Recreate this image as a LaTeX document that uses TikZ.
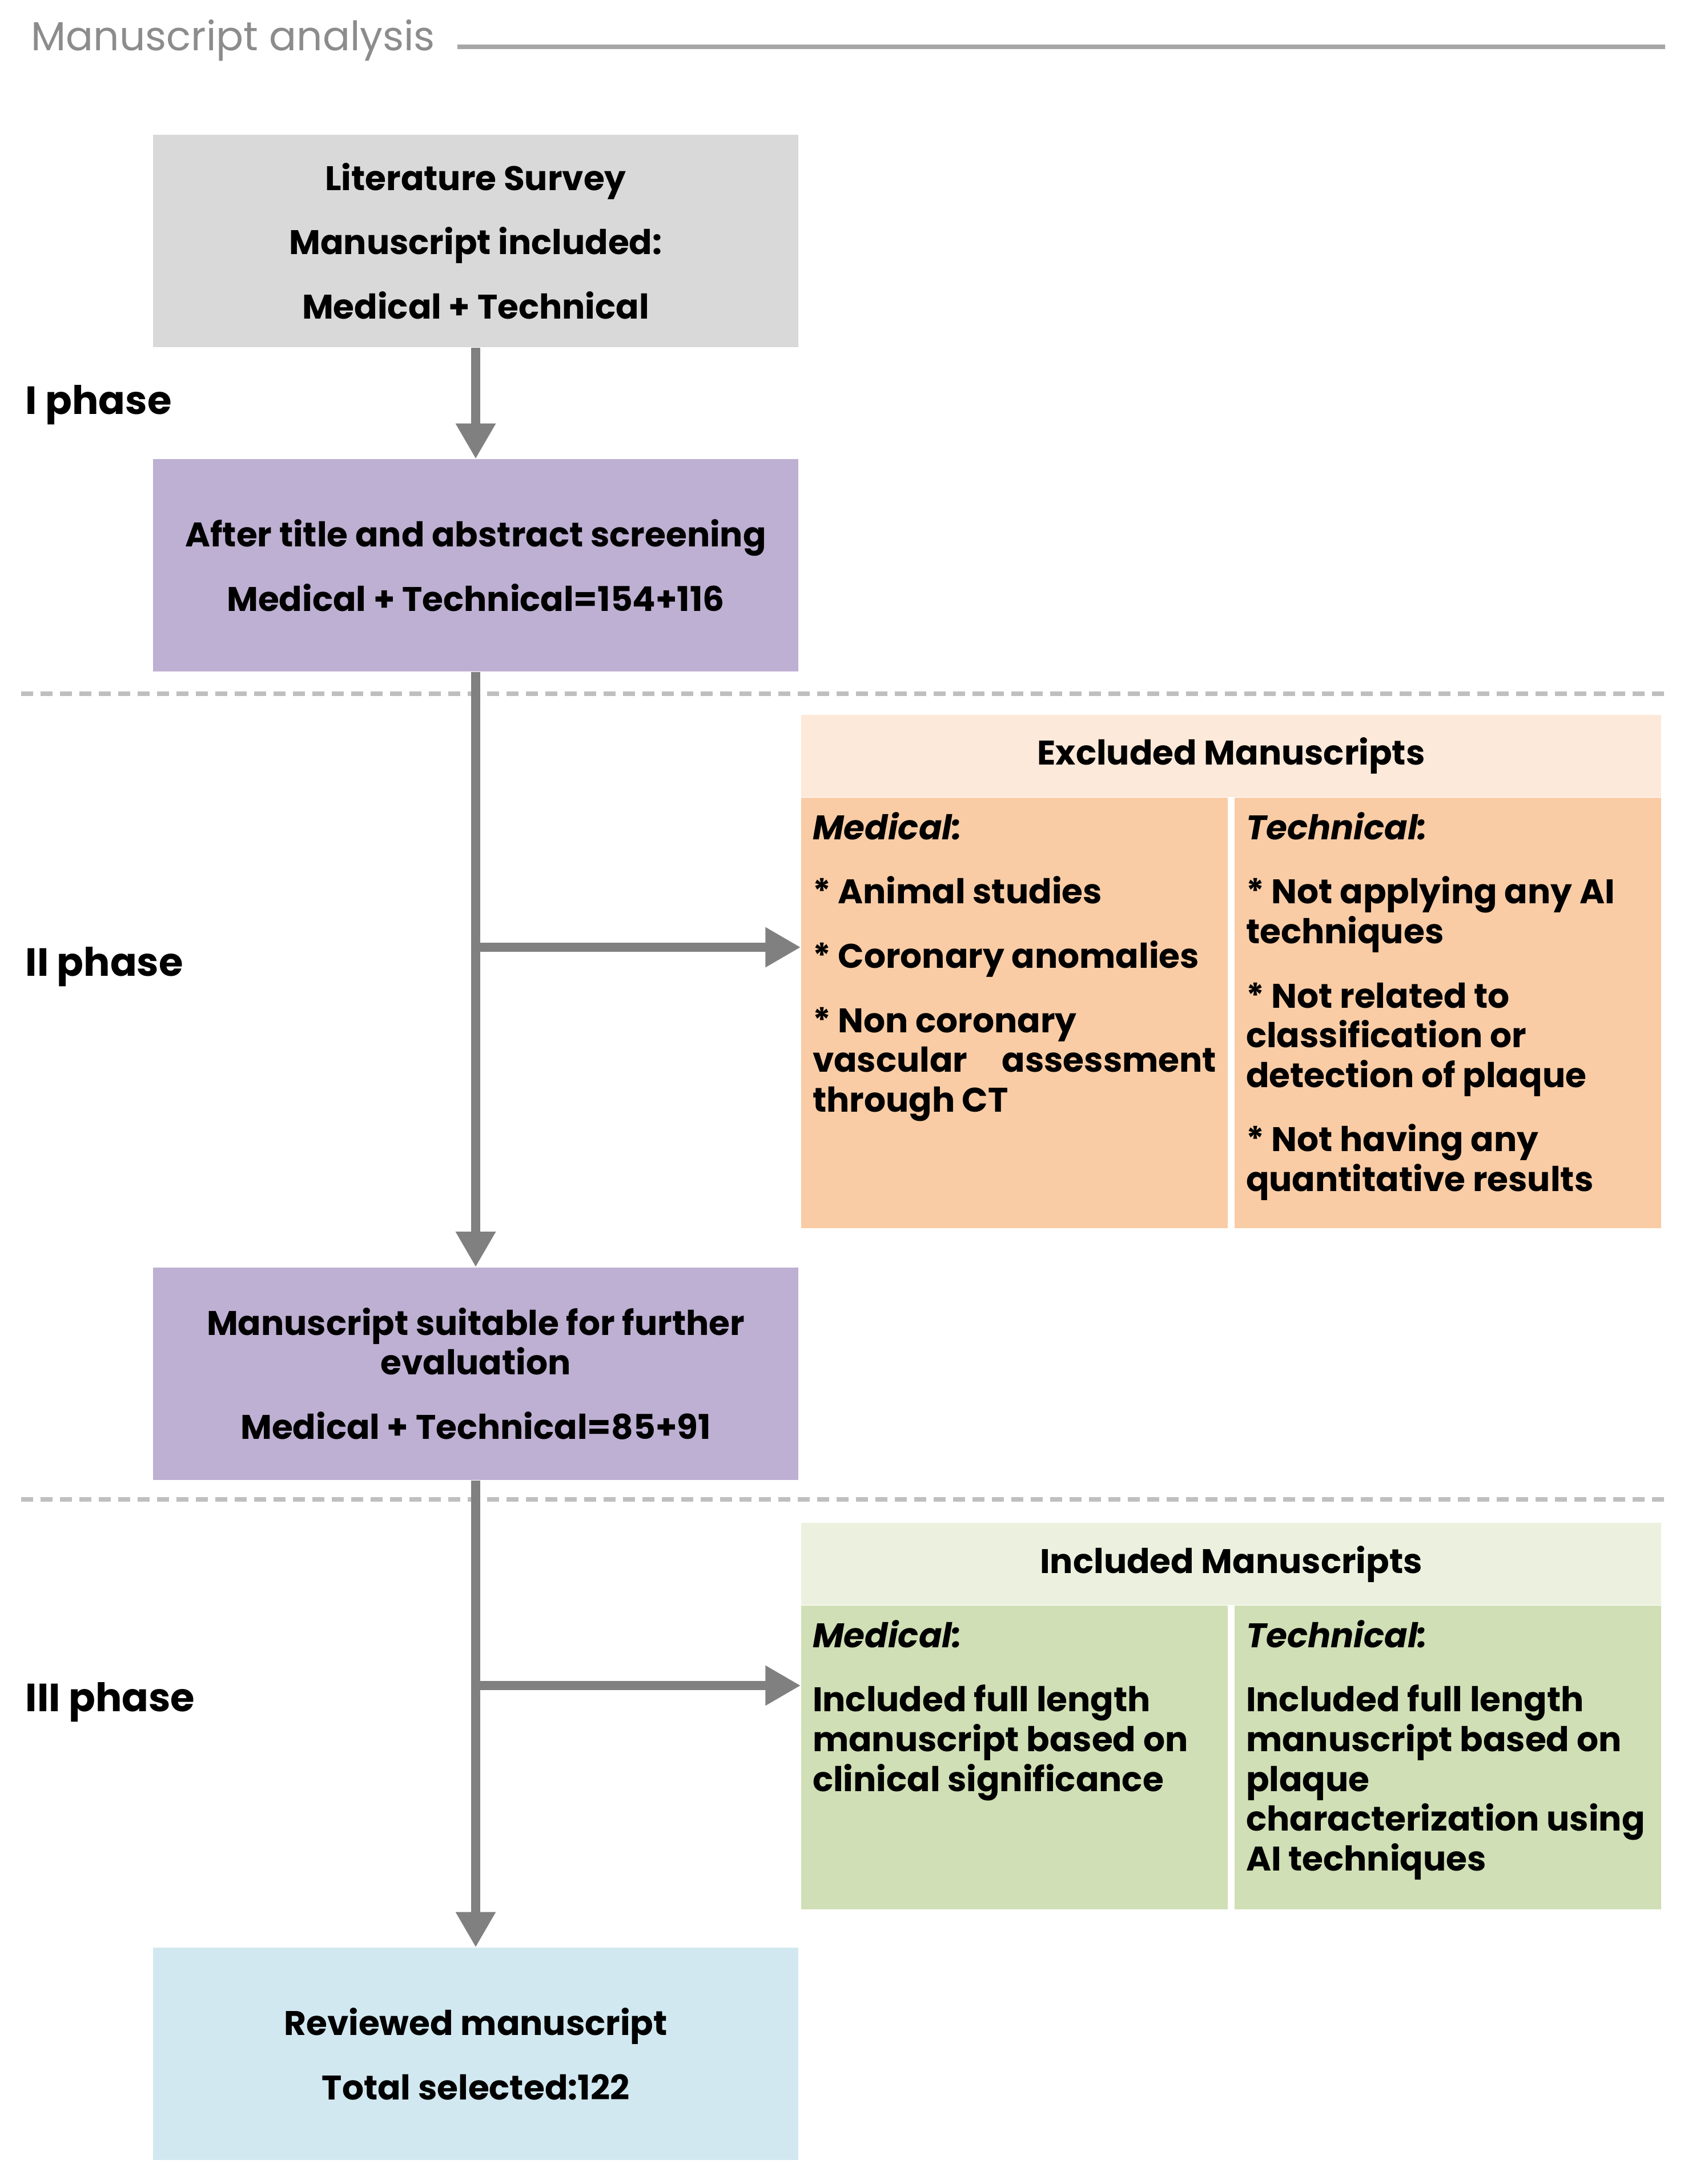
\documentclass[tikz,border=0pt]{standalone}
\usepackage{fontspec}
\setmainfont{Poppins}
\usetikzlibrary{arrows.meta,positioning}

\definecolor{flowgray}{HTML}{808080}
\definecolor{dashgray}{HTML}{BFBFBF}
\definecolor{rulegray}{HTML}{A6A6A6}
\definecolor{titlegray}{HTML}{8C8C8C}
\definecolor{surveygray}{HTML}{D9D9D9}
\definecolor{screenpurple}{HTML}{BEB0D2}
\definecolor{excludehead}{HTML}{FDE9D9}
\definecolor{excludebody}{HTML}{F9CCA5}
\definecolor{includehead}{HTML}{EBF1DE}
\definecolor{includebody}{HTML}{D0DFB5}
\definecolor{reviewblue}{HTML}{D2E8F0}

\newcommand{\stagefont}{\fontsize{17}{19.8}\selectfont}
\newcommand{\phasefont}{\fontsize{19.6}{22}\selectfont}
\newcommand{\titlefont}{\fontsize{20.2}{23}\selectfont}

\tikzset{
	stagebox/.style={minimum width=11.3cm, minimum height=3.72cm, inner sep=0pt, align=center, font=\bfseries\stagefont},
	flowarrow/.style={draw=flowgray, line width=4.8pt, -{Triangle[width=0.66cm,length=0.62cm]}},
	sepline/.style={draw=dashgray, line width=2.2pt, dash pattern=on 0.21cm off 0.13cm},
	phaselabel/.style={anchor=base west, inner sep=0pt, font=\bfseries\phasefont},
	headbox/.style={minimum width=15.06cm, minimum height=1.44cm, inner sep=0pt, font=\bfseries\stagefont},
	colbox/.style={inner xsep=0.2cm, inner ysep=0.25cm, font=\bfseries\stagefont}
}

\begin{document}
\begin{tikzpicture}
	\def\skipgap{0.43cm}
	\def\colw{7.07cm}
	\useasboundingbox (0,0) rectangle (29.55,-38.25);

	\node[anchor=base west, inner sep=0pt, text=titlegray, font=\titlefont] (title) at (0.54,-0.89) {Manuscript analysis};
	\coordinate (rule-end) at (29.16,-0.82);
	\draw[rulegray, line width=2pt] ([xshift=0.38cm]title.east |- rule-end) -- (rule-end);

	\foreach \y in {12.15,26.26} {
		\draw[sepline] (0.37,-\y) -- (29.16,-\y);
	}

	\foreach \n/\t/\y in {ph1/I phase/7.25, ph2/II phase/17.09, ph3/III phase/29.97} {
		\node[phaselabel] (\n) at (0.44,-\y) {\t};
	}

	\node[stagebox, fill=surveygray] (survey) at (8.33,-4.22) {Literature Survey\\[\skipgap]Manuscript included:\\[\skipgap]Medical + Technical};
	\node[stagebox, fill=screenpurple, below=1.95cm of survey] (screen) {After title and abstract screening\\[\skipgap]Medical + Technical=154+116};
	\node[stagebox, fill=screenpurple, below=10.42cm of screen] (suitable) {Manuscript suitable for further\\evaluation\\[\skipgap]Medical + Technical=85+91};
	\node[stagebox, fill=reviewblue, below=8.18cm of suitable] (review) {Reviewed manuscript\\[\skipgap]Total selected:122};

	\node[headbox, fill=excludehead] (exhead) at (21.56,-13.24) {Excluded Manuscripts};
	\node[colbox, fill=excludebody, anchor=north west] (exmed) at (exhead.south west) {\parbox[t][7.04cm][t]{\colw}{\raggedright
		\textit{Medical:}\\[\skipgap]
		* Animal studies\\[\skipgap]
		* Coronary anomalies\\[\skipgap]
		* Non coronary\\
		vascular\hfill assessment\\
		through CT}};
	\node[colbox, fill=excludebody, anchor=north east] (extech) at (exhead.south east) {\parbox[t][7.04cm][t]{\colw}{\raggedright
		\textit{Technical:}\\[\skipgap]
		* Not applying any AI\\
		techniques\\[\skipgap]
		* Not related to\\
		classification or\\
		detection of plaque\\[\skipgap]
		* Not having any\\
		quantitative results}};

	\node[headbox, fill=includehead] (inhead) at (21.56,-27.39) {Included Manuscripts};
	\node[colbox, fill=includebody, anchor=north west] (inmed) at (inhead.south west) {\parbox[t][4.82cm][t]{\colw}{\raggedright
		\textit{Medical:}\\[\skipgap]
		Included full length\\
		manuscript based on\\
		clinical significance}};
	\node[colbox, fill=includebody, anchor=north east] (intech) at (inhead.south east) {\parbox[t][4.82cm][t]{\colw}{\raggedright
		\textit{Technical:}\\[\skipgap]
		Included full length\\
		manuscript based on\\
		plaque\\
		characterization using\\
		AI techniques}};

	\coordinate (fork1) at (screen.south |- 0,-16.59);
	\coordinate (fork2) at (suitable.south |- 0,-29.52);
	\draw[flowarrow] (survey) -- (screen);
	\draw[flowarrow] (screen) -- (suitable);
	\draw[flowarrow] (fork1) -- (fork1 -| exmed.west);
	\draw[flowarrow] (suitable) -- (review);
	\draw[flowarrow] (fork2) -- (fork2 -| inmed.west);
\end{tikzpicture}
\end{document}
